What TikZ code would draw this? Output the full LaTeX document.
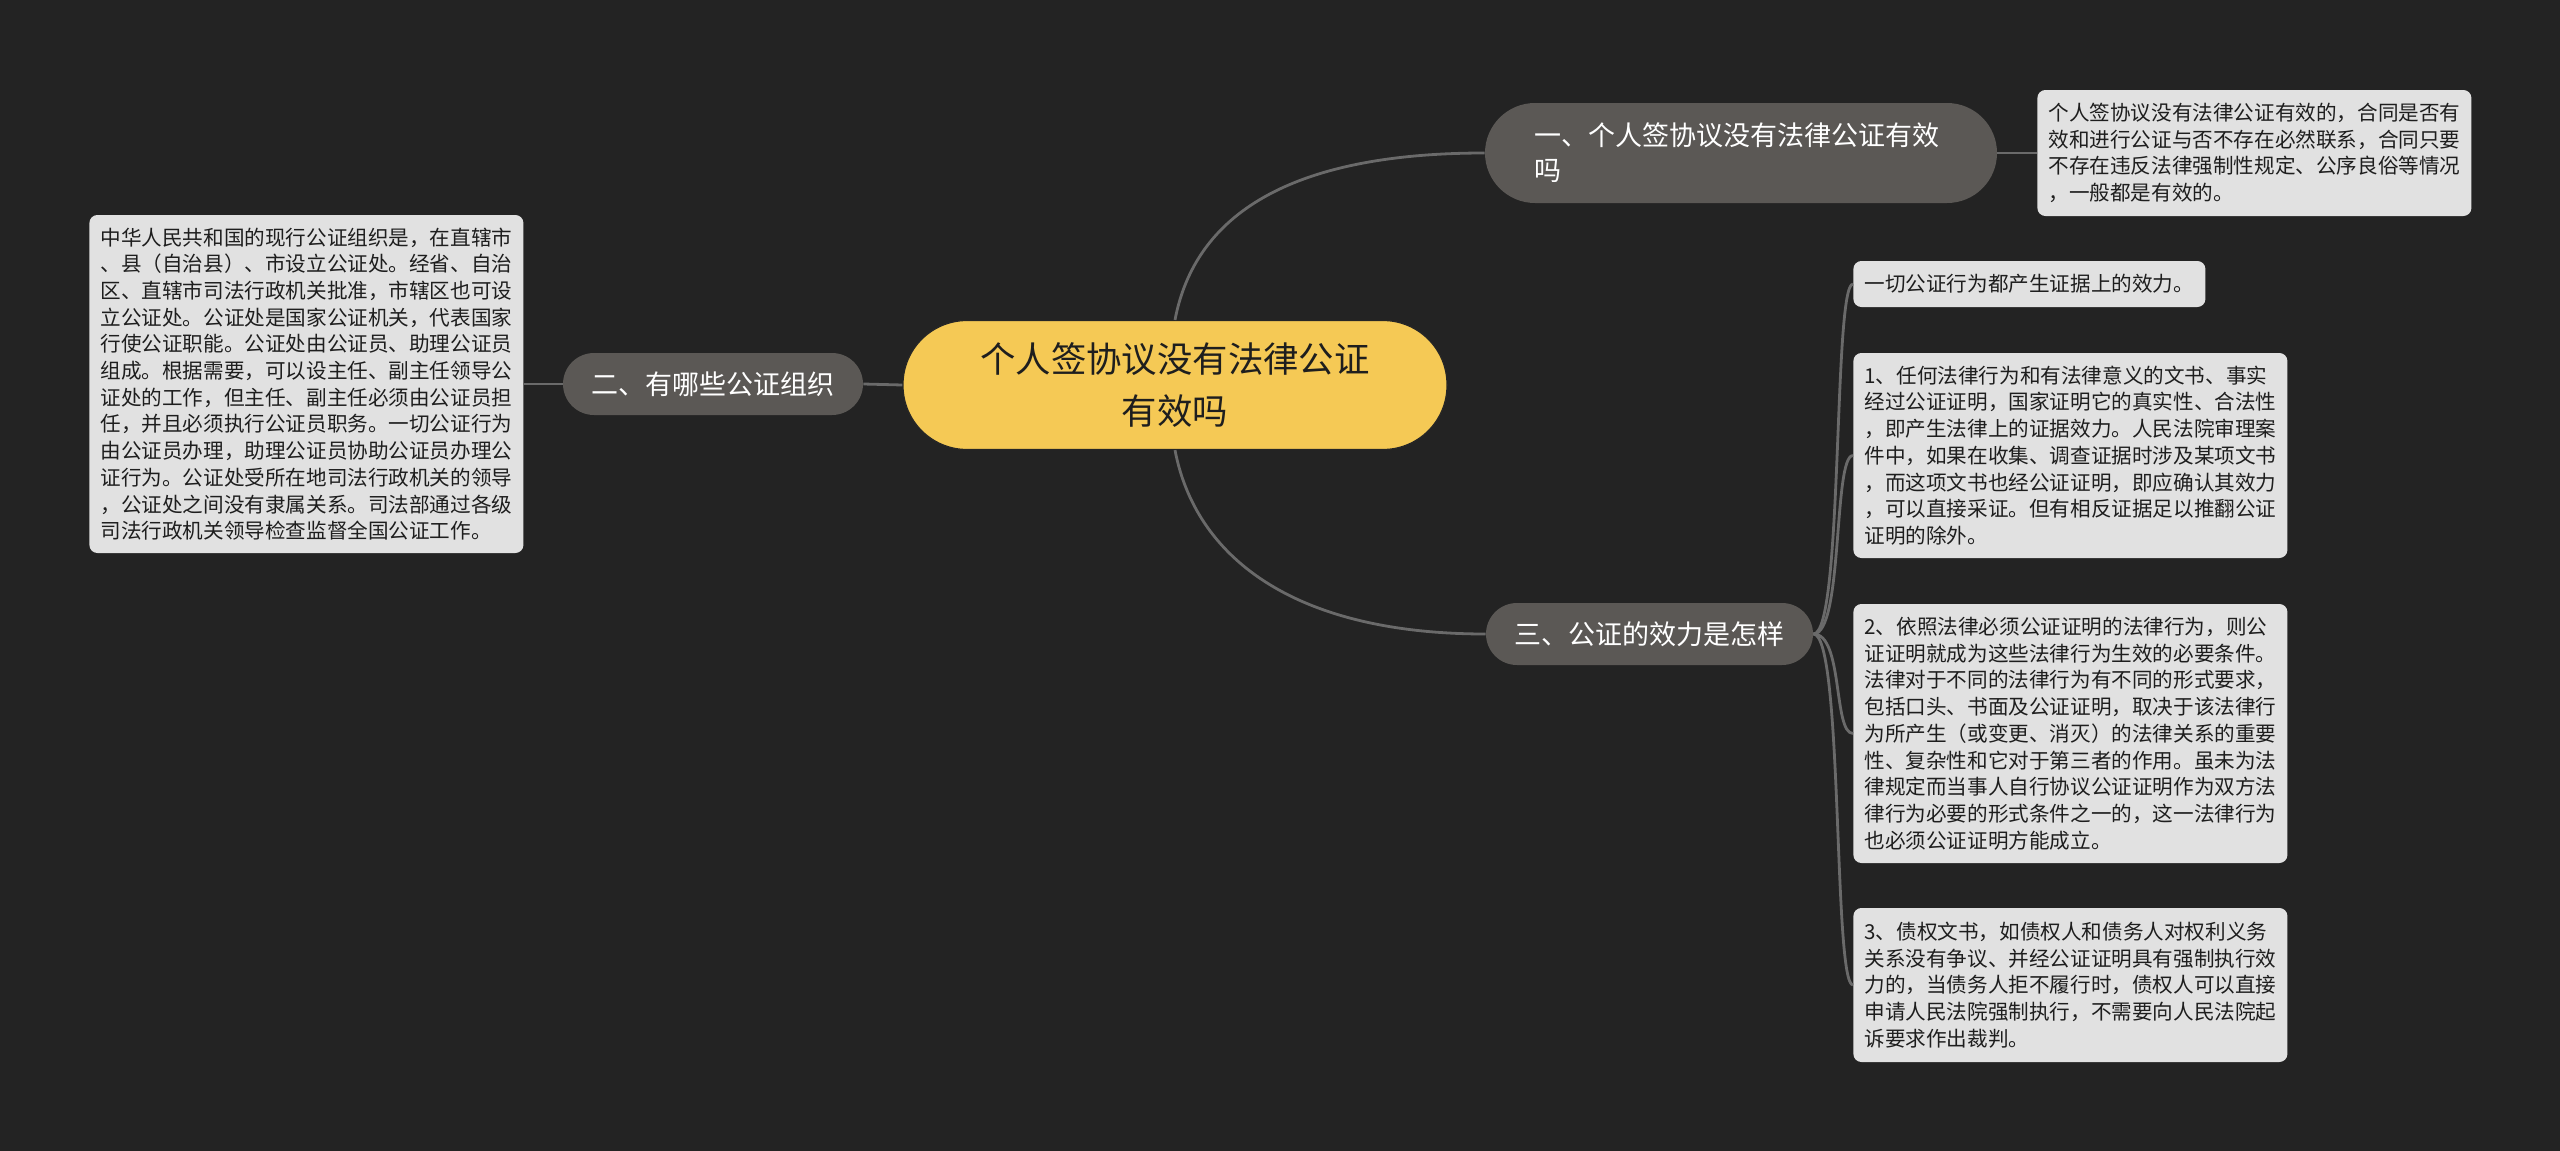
\documentclass[tikz,border=0pt]{standalone}
\usepackage{fontspec}
\newfontfamily\cjk{Noto Sans CJK SC}
\definecolor{bgdark}{HTML}{232323}
\definecolor{linkgray}{HTML}{6A6A6A}
\definecolor{branchgray}{HTML}{5B5855}
\definecolor{leafgray}{HTML}{E1E1E1}
\definecolor{leafink}{HTML}{1E1E1E}
\definecolor{rootyellow}{HTML}{F5C955}
\begin{document}
\begin{tikzpicture}[x=0.5pt,y=-0.5pt,
  link/.style={draw=linkgray, line width=1.4pt},
  rootbox/.style={fill=rootyellow, draw=black!85, line width=0.6pt, text=leafink, rounded corners=32pt,
    minimum width=272pt, minimum height=64.5pt, inner sep=0pt, align=center,
    font=\cjk\fontsize{17.7pt}{26pt}\selectfont},
  branchbox/.style={fill=branchgray, text=white, inner sep=0pt,
    font=\cjk\fontsize{13.5pt}{17.5pt}\selectfont},
  leafbox/.style={fill=leafgray, text=leafink, rounded corners=4pt, anchor=west, align=left,
    inner xsep=5.5pt, inner ysep=0pt, text width=206pt,
    font=\cjk\fontsize{10.3pt}{13.35pt}\selectfont}]
\useasboundingbox (0,0) rectangle (2560,1151);
\fill[bgdark] (0,0) rectangle (2560,1151);
% root:
\node[rootbox] (root) at (1175,385) {个人签协议没有法律公证\\有效吗};
% branches:
\node[branchbox, rounded corners=25pt, minimum height=50pt, text width=207pt, inner xsep=24.5pt, align=left]
  (sign) at (1741,153) {一、个人签协议没有法律公证有效\\吗};
\node[branchbox, rounded corners=15.5pt, minimum height=31pt, minimum width=150pt]
  (org) at (713,384) {二、有哪些公证组织};
\node[branchbox, rounded corners=15.5pt, minimum height=31pt, minimum width=163.5pt]
  (force) at (1649.5,634) {三、公证的效力是怎样};
% leaves:
\node[leafbox, minimum height=169pt] (orgtext) at (89,384)
  {中华人民共和国的现行公证组织是，在直辖市\\、县（自治县）、市设立公证处。经省、自治\\区、直辖市司法行政机关批准，市辖区也可设\\立公证处。公证处是国家公证机关，代表国家\\行使公证职能。公证处由公证员、助理公证员\\组成。根据需要，可以设主任、副主任领导公\\证处的工作，但主任、副主任必须由公证员担\\任，并且必须执行公证员职务。一切公证行为\\由公证员办理，助理公证员协助公证员办理公\\证行为。公证处受所在地司法行政机关的领导\\，公证处之间没有隶属关系。司法部通过各级\\司法行政机关领导检查监督全国公证工作。};
\node[leafbox, minimum height=63pt] (signtext) at (2037,153)
  {个人签协议没有法律公证有效的，合同是否有\\效和进行公证与否不存在必然联系，合同只要\\不存在违反法律强制性规定、公序良俗等情况\\，一般都是有效的。};
\node[leafbox, minimum height=23pt, text width=165pt] (forcea) at (1853,284)
  {一切公证行为都产生证据上的效力。};
\node[leafbox, minimum height=102.5pt] (forceb) at (1853,455.5)
  {1、任何法律行为和有法律意义的文书、事实\\经过公证证明，国家证明它的真实性、合法性\\，即产生法律上的证据效力。人民法院审理案\\件中，如果在收集、调查证据时涉及某项文书\\，而这项文书也经公证证明，即应确认其效力\\，可以直接采证。但有相反证据足以推翻公证\\证明的除外。};
\node[leafbox, minimum height=129.5pt] (forcec) at (1853,733.5)
  {2、依照法律必须公证证明的法律行为，则公\\证证明就成为这些法律行为生效的必要条件。\\法律对于不同的法律行为有不同的形式要求，\\包括口头、书面及公证证明，取决于该法律行\\为所产生（或变更、消灭）的法律关系的重要\\性、复杂性和它对于第三者的作用。虽未为法\\律规定而当事人自行协议公证证明作为双方法\\律行为必要的形式条件之一的，这一法律行为\\也必须公证证明方能成立。};
\node[leafbox, minimum height=77pt] (forced) at (1853,985)
  {3、债权文书，如债权人和债务人对权利义务\\关系没有争议、并经公证证明具有强制执行效\\力的，当债务人拒不履行时，债权人可以直接\\申请人民法院强制执行，不需要向人民法院起\\诉要求作出裁判。};
% links:
\draw[link] (root.north) .. controls +(20,-105) and +(-195,0) .. (sign.west);
\draw[link] (root.south) .. controls +(20,105) and +(-195,0) .. (force.west);
\draw[link] (root.west) -- (org.east);
\draw[link] (org.west) -- (orgtext.east);
\draw[link] (sign.east) -- (signtext.west);
\foreach \leaf in {forcea,forceb,forcec,forced}
  \draw[link] (force.east) .. controls +(30,0) and +(-20,0) .. (\leaf.west);
\end{tikzpicture}
\end{document}
